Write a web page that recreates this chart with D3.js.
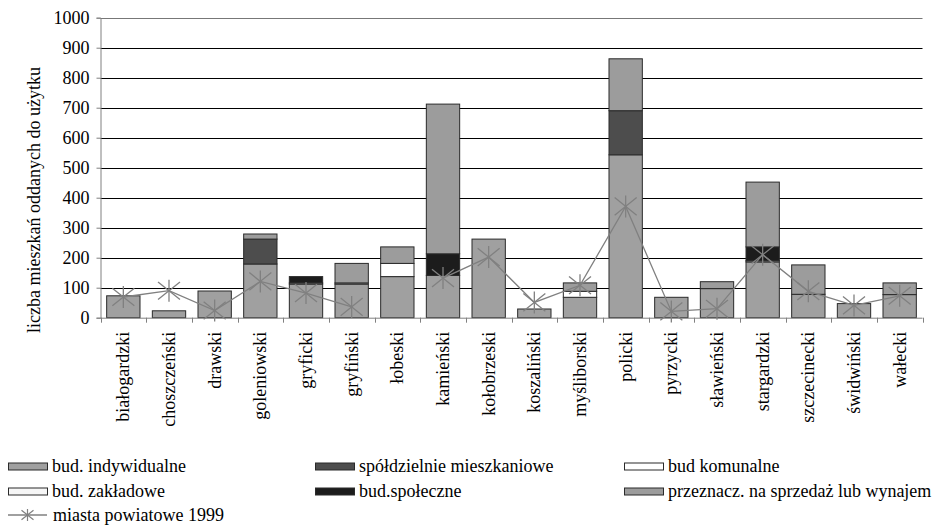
<!DOCTYPE html>
<html><head><meta charset="utf-8">
<script src="https://cdn.jsdelivr.net/npm/d3@7"></script>
<style>
body{margin:0;background:#fff;}
svg text{font-family:"Liberation Serif","Times New Roman",Tinos,"Nimbus Roman","DejaVu Serif",serif !important;font-size:18px !important;fill:#000;}
</style></head>
<body>
<svg id="c" width="950" height="525"></svg>
<script>
const categories = ["białogardzki","choszczeński","drawski","goleniowski","gryficki","gryfiński","łobeski","kamieński","kołobrzeski","koszaliński","myśliborski","policki","pyrzycki","sławieński","stargardzki","szczecinecki","świdwiński","wałecki"];
const indywidualne = [73,23,89,179,112,112,137,141,262,29,68,543,68,97,186,78,47,77];
const spoldzielnie = [0,0,0,83,0,0,0,0,0,0,0,147,0,0,0,0,0,0];
const komunalne = [0,0,0,0,4,0,44,0,0,0,20,0,0,0,4,0,0,0];
const zakladowe = [0,0,0,0,0,4,0,0,0,0,0,0,0,0,0,0,0,0];
const spoleczne = [0,0,0,0,21,0,0,72,0,0,0,0,0,0,46,0,0,0];
const przeznacz = [0,0,0,17,0,65,55,499,0,0,28,173,0,23,216,98,0,39];
const miasta1999 = [69,90,24,121,82,36,null,132,202,51,108,371,21,30,210,88,41,73];
const yTicks = [0,100,200,300,400,500,600,700,800,900,1000];

const FONT = "'Liberation Serif','Times New Roman',Tinos,'Nimbus Roman','DejaVu Serif',serif";

const seriesDefs = [
  {key:"ind", name:"bud. indywidualne", values:indywidualne, fill:"#a0a0a0"},
  {key:"spo", name:"spółdzielnie mieszkaniowe", values:spoldzielnie, fill:"#4d4d4d"},
  {key:"kom", name:"bud komunalne", values:komunalne, fill:"#ffffff"},
  {key:"zak", name:"bud. zakładowe", values:zakladowe, fill:"#f6f6f6"},
  {key:"spol", name:"bud.społeczne", values:spoleczne, fill:"#1c1c1c"},
  {key:"prz", name:"przeznacz. na sprzedaż lub wynajem", values:przeznacz, fill:"#9c9c9c"}
];

const svg = d3.select("#c").attr("font-family",FONT).attr("font-size",18);
const L = 100.5, R = 922.5, T = 17.7, B = 317.7;
const x = d3.scaleBand().domain(categories).range([L,R]).paddingInner(0.27).paddingOuter(0.135);
const y = d3.scaleLinear().domain([0,1000]).range([B,T]);

// gridlines
svg.append("g").selectAll("line").data(yTicks.filter(d=>d>0)).join("line")
  .attr("x1",L).attr("x2",R)
  .attr("y1",d=>Math.round(y(d))+0.5).attr("y2",d=>Math.round(y(d))+0.5)
  .attr("stroke",d=>d===1000?"#777":"#000").attr("stroke-width",1);

// stacked bars
const table = categories.map((c,i)=>{const o={cat:c}; seriesDefs.forEach(s=>o[s.key]=s.values[i]); return o;});
const stack = d3.stack().keys(seriesDefs.map(s=>s.key))(table);
svg.append("g").selectAll("g").data(stack).join("g")
  .attr("fill",(d,i)=>seriesDefs[i].fill)
  .selectAll("rect").data(d=>d.filter(e=>e[1]-e[0]>0)).join("rect")
  .attr("x",d=>x(d.data.cat)).attr("width",x.bandwidth())
  .attr("y",d=>y(d[1])).attr("height",d=>y(d[0])-y(d[1]))
  .attr("stroke","#2a2a2a").attr("stroke-width",1);

// axes
const yAxis = d3.axisLeft(y).tickValues(yTicks).tickSize(4).tickPadding(7).tickFormat(d3.format("d"));
const gy = svg.append("g").attr("transform",`translate(${L},0)`).call(yAxis)
  .attr("font-family",FONT).attr("font-size",18);
gy.select(".domain").attr("stroke","#808080");
gy.selectAll(".tick line").attr("stroke","#808080");
gy.selectAll("text").style("font-family",FONT).style("font-size","18px");

const gx = svg.append("g").attr("transform",`translate(0,${B})`);
gx.append("line").attr("x1",L).attr("x2",R).attr("y1",0.5).attr("y2",0.5).attr("stroke","#808080");
const bounds = categories.map((c,i)=>L + i*x.step()).concat([R]);
gx.selectAll("line.t").data(bounds).join("line").attr("class","t")
  .attr("x1",d=>Math.round(d)+0.5).attr("x2",d=>Math.round(d)+0.5).attr("y1",0).attr("y2",5).attr("stroke","#808080");
gx.selectAll("text").data(categories).join("text")
  .attr("transform",d=>`translate(${x(d)+x.bandwidth()/2},14) rotate(-90)`)
  .attr("text-anchor","end").attr("dy","0.33em").style("font-family",FONT).text(d=>d);

// y title
svg.append("text").attr("transform","translate(40,200) rotate(-90)")
  .attr("text-anchor","middle").style("font-family",FONT).text("liczba mieszkań oddanych do użytku");

// line series
const cx = d=>x(d)+x.bandwidth()/2;
const line = d3.line().defined(d=>d.v!=null).x(d=>cx(d.c)).y(d=>y(d.v));
const pts = categories.map((c,i)=>({c, v:miasta1999[i]}));
svg.append("path").datum(pts).attr("d",line).attr("fill","none").attr("stroke","#808080").attr("stroke-width",1.3);
function star(g, s){
  g.append("line").attr("x1",0).attr("x2",0).attr("y1",-s).attr("y2",s);
  g.append("line").attr("x1",-s).attr("x2",s).attr("y1",-s*0.8).attr("y2",s*0.8);
  g.append("line").attr("x1",-s).attr("x2",s).attr("y1",s*0.8).attr("y2",-s*0.8);
}
svg.append("g").selectAll("g").data(pts.filter(d=>d.v!=null)).join("g")
  .attr("transform",d=>`translate(${cx(d.c)},${y(d.v)})`)
  .attr("stroke","#808080").attr("stroke-width",1.3)
  .each(function(){star(d3.select(this),11);});

// legend
const colX = [8,315,624];
const rowY = [466.5,491.5];
const lg = svg.append("g");
seriesDefs.forEach((s,i)=>{
  const cxp = colX[i%3], cy = rowY[Math.floor(i/3)];
  lg.append("rect").attr("x",cxp+0.5).attr("y",cy-3.5).attr("width",39).attr("height",7)
    .attr("fill",s.fill).attr("stroke","#2a2a2a").attr("stroke-width",1);
  lg.append("text").attr("x",cxp+44).attr("y",cy).attr("dy","0.33em").style("font-family",FONT).text(s.name);
});
const ly = 515;
lg.append("line").attr("x1",8).attr("x2",47).attr("y1",ly).attr("y2",ly).attr("stroke","#808080").attr("stroke-width",1.3);
const ls = lg.append("g").attr("transform",`translate(27.5,${ly})`).attr("stroke","#808080").attr("stroke-width",1.2);
star(ls,6);
lg.append("text").attr("x",53).attr("y",ly).attr("dy","0.33em").style("font-family",FONT).text("miasta powiatowe 1999");
</script>
</body></html>
